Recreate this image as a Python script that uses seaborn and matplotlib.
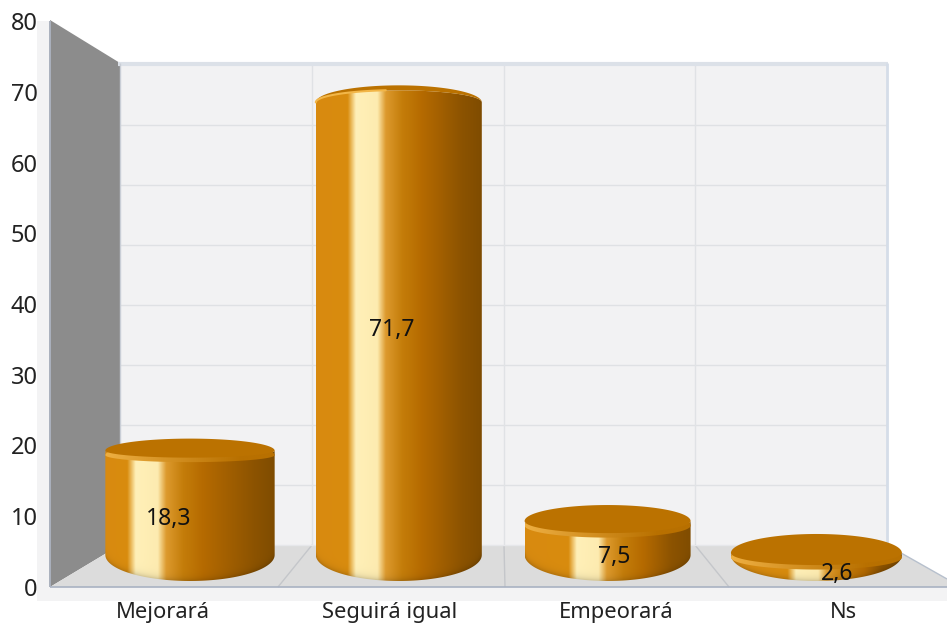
import numpy as np
import pandas as pd
import matplotlib
matplotlib.use("Agg")
import matplotlib.pyplot as plt
from matplotlib.patches import Polygon
from matplotlib.path import Path
from matplotlib.transforms import Affine2D
from matplotlib.colors import to_rgb
import seaborn as sns

categories = ["Mejorará", "Seguirá igual", "Empeorará", "Ns"]
values = [18.3, 71.7, 7.5, 2.6]
value_labels = ["18,3", "71,7", "7,5", "2,6"]
y_ticks = [0, 10, 20, 30, 40, 50, 60, 70, 80]

# --- style / layout (pixels of the 947x630 picture) ---
W, H = 947, 630
X0, BAR_STEP = 190.0, 208.8
Y0, PX_Y = 587.0, 7.0625
width_factor = [1.02, 1.0, 1.0, 1.03]
highlight_at = [0.16, 0.22, 0.29, 0.36]
cap_up = [12, 17, 16, 19]
cap_down = [7, -12, 12, 12]
TOP_SCALE = 6.51 / PX_Y
TOP_BASE = (Y0 - 570) / PX_Y
BASE_EDGE = (Y0 - 555) / PX_Y
BASE_DEPTH = 26 / PX_Y
CAP = "#bb7200"

sns.set_theme(style="white")
plt.rcParams["font.family"] = ["Noto Sans", "DejaVu Sans"]

fig = plt.figure(figsize=(W / 100, H / 100), dpi=100, facecolor="white")
ax = fig.add_axes([50 / W, (H - Y0) / H, (W - 50) / W, (Y0 - 21) / H])
ax.patch.set_alpha(0)

df = pd.DataFrame({"cat": categories, "val": values})
sns.barplot(data=df, x="cat", y="val", ax=ax, width=166 / BAR_STEP,
            color="#bb7200", errorbar=None, zorder=5)

ax.set_xlim((50 - X0) / BAR_STEP, (W - X0) / BAR_STEP)
ax.set_ylim(0, 80)
for s in ax.spines.values():
    s.set_visible(False)
ax.set_xlabel("")
ax.set_ylabel("")

# category labels sit on the front edge of the floor, wider apart than the bars
label_px = 163 + 226.8 * np.arange(len(categories))
ax.set_xticks((label_px - X0) / BAR_STEP)
ax.set_xticklabels(categories)
ax.set_yticks(y_ticks)
ax.tick_params(axis="x", length=0, pad=10.5, labelsize=15.8, labelcolor="#222222")
ax.tick_params(axis="y", length=0, pad=9, labelsize=17, labelcolor="#222222")

# pixel transform for the painted 3D room
px = Affine2D().scale(1 / W, -1 / H).translate(0, 1) + fig.transFigure


def poly(pts, color, z=1):
    ax.add_patch(Polygon(pts, closed=True, facecolor=color, edgecolor="none",
                         transform=px, clip_on=False, zorder=z))


def seg(x1, y1, x2, y2, color, lw=1.0, z=2):
    ax.plot([x1, x2], [y1, y2], color=color, lw=lw, transform=px,
            clip_on=False, zorder=z, solid_capstyle="butt")


poly([(37, 21), (50, 21), (50, 587), (947, 587), (947, 601), (50, 601), (37, 601)], "#f3f3f4")
poly([(120, 65), (887, 65), (887, 545), (120, 545)], "#f2f2f3")
poly([(50, 20), (120, 63), (120, 545), (50, 587)], "#8c8c8c")
poly([(50, 587), (120, 545), (887, 545), (947, 579), (947, 587)], "#dcdcdc")

for t in y_ticks[1:-1]:
    py = 545 - 6 * t
    seg(120, py, 887, py, "#dfe1e4", 1.0)
for xb, xf in [(312, 278), (504, 505), (695, 729)]:
    seg(xb, 65, xb, 545, "#e0e2e5", 1.0)
    seg(xb, 545, xf, 587, "#c4c6ca", 1.0)
seg(120, 545, 887, 545, "#e6e7ea", 1.0)
seg(118, 64, 888, 64, "#dce1e8", 3.0, 3)
seg(887, 63, 887, 545, "#d5dde8", 2.0, 3)
seg(120, 63, 120, 545, "#c9ced6", 1.0, 3)
seg(50, 21, 50, 587, "#aab1bd", 1.4, 3)
seg(50, 587, 947, 587, "#a9b2c2", 1.2, 3)
seg(887, 545, 947, 579, "#b7c0cd", 1.0, 3)

# gradient of the cylinder's lit surface
stops_c = [to_rgb(c) for c in ("#d88a10", "#d98c0e", "#fff0b8", "#fdebb0", "#dd9a2e",
                               "#c47d0a", "#b56a00", "#8c5300", "#7f4c00")]


def body_colour(u, hi):
    pos = [0, hi - 0.03, hi + 0.02, hi + 0.15, hi + 0.2, hi + 0.3, hi + 0.42, 0.88, 1.0]
    pos = np.maximum.accumulate(np.minimum(pos, [1] * 9))
    return np.stack([np.interp(u, pos, [c[i] for c in stops_c]) for i in range(3)], axis=-1)


for i, bar in enumerate(ax.patches[:len(values)]):
    v = bar.get_height()
    bar.set_alpha(0)
    cx = bar.get_x() + bar.get_width() / 2
    half = bar.get_width() / 2 * width_factor[i]
    edge = TOP_BASE + TOP_SCALE * v
    up, down = cap_up[i] / PX_Y, cap_down[i] / PX_Y

    # outline of the cylinder body in data units
    t = np.linspace(0, np.pi, 80)
    bx = cx - half * np.cos(t)
    by = BASE_EDGE - BASE_DEPTH * np.sin(t)
    tx = cx + half * np.cos(t)
    ty = edge - down * np.sin(t)
    verts = np.r_[np.c_[bx, by], np.c_[tx, ty], [[bx[0], by[0]]]]
    codes = [Path.MOVETO] + [Path.LINETO] * (len(verts) - 2) + [Path.CLOSEPOLY]
    outline = Path(verts, codes)

    ny = int((edge + 4 - (BASE_EDGE - BASE_DEPTH)) * PX_Y) + 2
    nx = 340
    u = np.linspace(0, 1, nx)
    ys = np.linspace(edge + 3, BASE_EDGE - BASE_DEPTH, ny)
    rgb = np.repeat(body_colour(u, highlight_at[i])[None, :, :], ny, axis=0)
    s = np.sqrt(np.clip(1 - (2 * u - 1) ** 2, 0, 1))
    yb = BASE_EDGE - BASE_DEPTH * s
    dist = (ys[:, None] - yb[None, :]) * PX_Y
    rgb = rgb * (1 - 0.16 * np.exp(-np.clip(dist, 0, None) / 3.0))[..., None]
    im = ax.imshow(rgb, extent=(cx - half, cx + half, BASE_EDGE - BASE_DEPTH, edge + 3),
                   origin="upper", aspect="auto", zorder=6, interpolation="bilinear")
    im.set_clip_path(outline, ax.transData)

    # top: back arc + front rim
    cap_t = np.linspace(0, 2 * np.pi, 160)
    cap_x = cx + half * np.cos(cap_t)
    cap_y = edge + np.where(np.sin(cap_t) >= 0, up * np.sin(cap_t), down * np.sin(cap_t))
    if down > 0:
        rim_y = cap_y - 4.5 / PX_Y
        rim = Polygon(np.c_[cap_x, rim_y], closed=True, facecolor="none", edgecolor="none",
                      transform=ax.transData)
        ax.add_patch(rim)
        fade = np.clip(np.linspace(0, 1.25, 200), 0, 1)[None, :, None]
        imr = ax.imshow(fade * np.array(to_rgb("#b87000")) + (1 - fade) * np.array(to_rgb("#eeaf42")),
                        extent=(cx - half, cx + half, edge - down - 6 / PX_Y, edge + up),
                        aspect="auto", zorder=6.5)
        imr.set_clip_path(rim)
    ax.add_patch(Polygon(np.c_[cap_x, cap_y], closed=True, facecolor=CAP, edgecolor="none",
                         zorder=7))
    if down < 0:
        # seen from below: thin bright crescent along the left of the top
        arc_t = np.linspace(np.pi, np.pi * 0.55, 40)
        ax.plot(cx + half * np.cos(arc_t), edge + up * 0.72 * np.sin(arc_t),
                color="#f2b648", lw=1.5, zorder=7.5)

    ax.text(cx + (i - 1.5) * 14 / BAR_STEP, v / 2 + 0.5, value_labels[i], ha="center",
            va="center", fontsize=16.5, color="#111111", zorder=9)

ax.set_xlim((50 - X0) / BAR_STEP, (W - X0) / BAR_STEP)
ax.set_ylim(0, 80)
fig.savefig("out.png", dpi=100, facecolor="white")
